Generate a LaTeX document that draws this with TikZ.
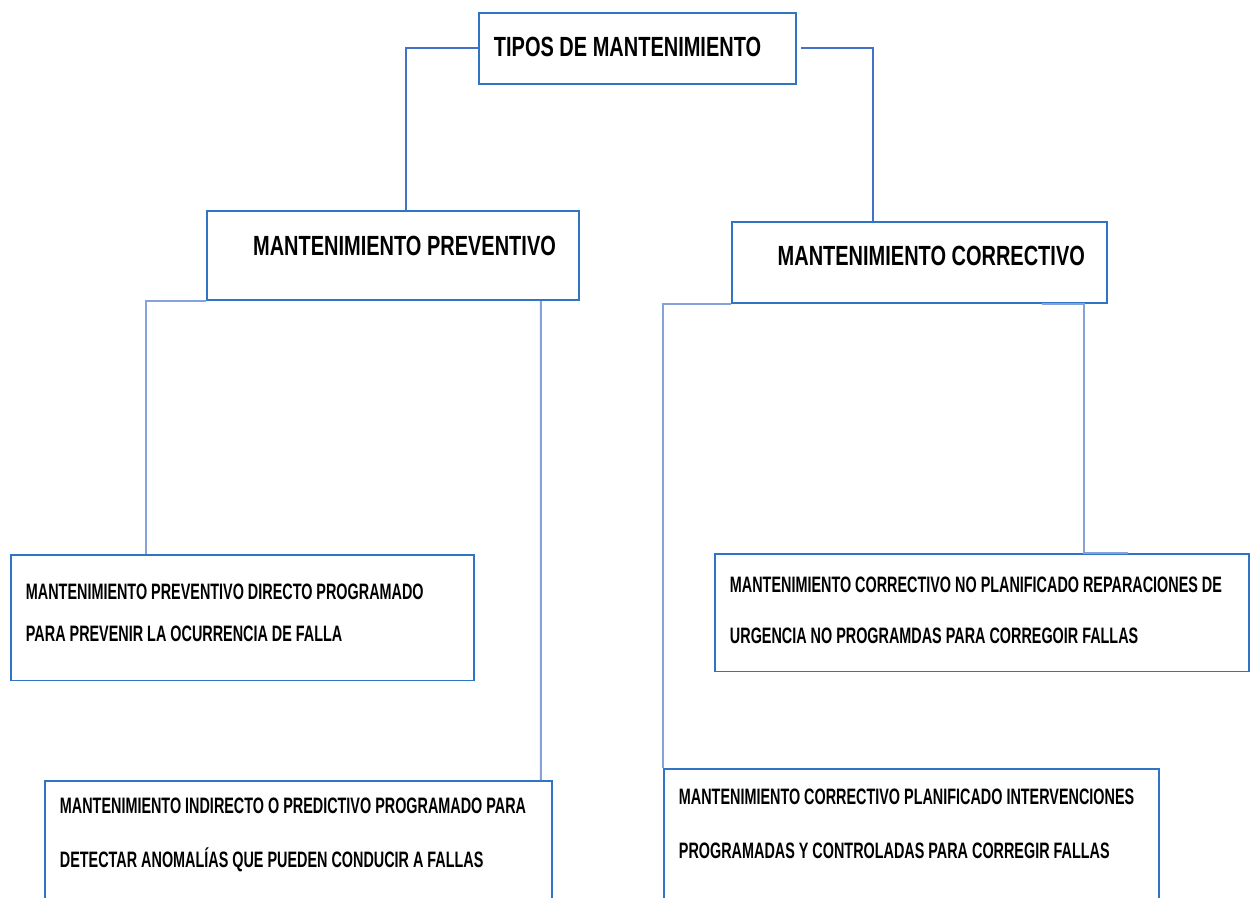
\documentclass[tikz,border=0pt]{standalone}
\usepackage{fontspec}
\setmainfont[FakeStretch=0.72]{Liberation Sans}
\newfontfamily\leaffont[FakeStretch=0.645]{Liberation Sans}
\usepackage{xcolor}
\usepackage{tikz}
\usetikzlibrary{positioning}

\definecolor{boxblue}{RGB}{46,117,196}
\definecolor{linkblue}{RGB}{70,112,200}

\begin{document}
\begin{tikzpicture}[
    x=0.02cm, y=-0.02cm,
    head/.style={
        rectangle,
        draw=boxblue,
        line width=1.1pt,
        anchor=north west,
        inner ysep=0pt,
        font=\fontsize{15.8}{18}\selectfont\bfseries
    },
    leaf/.style={
        rectangle,
        draw=boxblue,
        line width=1.1pt,
        anchor=north west,
        align=flush left,
        inner xsep=0.3cm
    },
    link/.style={draw=linkblue, line width=1.1pt},
    faint/.style={draw=linkblue!65, line width=1.1pt}
]
\useasboundingbox (0,0) rectangle (1252,898);

% main boxes
\node (tipos) [head, text width=5.74cm, inner xsep=0.3cm, align=flush left,
    minimum height=1.42cm, text depth=0.08cm] at (478,12) {TIPOS DE MANTENIMIENTO};
\node (prev) [head, text width=6.52cm, inner xsep=0.46cm, align=flush right,
    minimum height=1.78cm, text depth=0.4cm] at (206,210) {MANTENIMIENTO PREVENTIVO};
\node (corr) [head, text width=6.62cm, inner xsep=0.44cm, align=flush right,
    minimum height=1.62cm, text depth=0.28cm] at (731,221) {MANTENIMIENTO CORRECTIVO};

% leaf boxes
\node (dir) [leaf, text width=8.66cm, inner ysep=0.58cm, text depth=1.04cm,
    font=\leaffont\bfseries\fontsize{12.7}{23.9}\selectfont] at (10,554)
    {MANTENIMIENTO PREVENTIVO DIRECTO PROGRAMADO\\PARA PREVENIR LA OCURRENCIA DE FALLA};
\node (ind) [leaf, text width=9.54cm, inner ysep=0.34cm, text depth=4cm,
    font=\leaffont\bfseries\fontsize{12.7}{30.7}\selectfont] at (44,780)
    {MANTENIMIENTO INDIRECTO O PREDICTIVO PROGRAMADO PARA\\DETECTAR ANOMALÍAS QUE PUEDEN CONDUCIR A FALLAS};
\node (nplan) [leaf, text width=10.08cm, inner ysep=0.46cm, text depth=1.12cm,
    font=\leaffont\bfseries\fontsize{12.7}{29}\selectfont] at (714,553)
    {MANTENIMIENTO CORRECTIVO NO PLANIFICADO REPARACIONES DE\\URGENCIA NO PROGRAMDAS PARA CORREGOIR FALLAS};
\node (plan) [leaf, text width=9.3cm, inner ysep=0.4cm, text depth=4cm,
    font=\leaffont\bfseries\fontsize{12.7}{30.7}\selectfont] at (663,768)
    {MANTENIMIENTO CORRECTIVO PLANIFICADO INTERVENCIONES\\PROGRAMADAS Y CONTROLADAS PARA CORREGIR FALLAS};

% connectors
\draw [link] (tipos.west) -| ([xshift=0.26cm]prev.north);
\draw [link] ([xshift=0.08cm]tipos.east) -| ([xshift=-0.93cm]corr.north);
\draw [faint] (prev.south west) -| ([xshift=-1.93cm]dir.north);
\draw [faint] ([xshift=2.96cm]prev.south) -- ([xshift=4.85cm]ind.north);
\draw [faint] (corr.south west) -| (plan.north west);
\draw [faint] ([xshift=-1.32cm]corr.south east) -| ([xshift=2.04cm]nplan.north) -- ++(44,0);

\end{tikzpicture}
\end{document}
